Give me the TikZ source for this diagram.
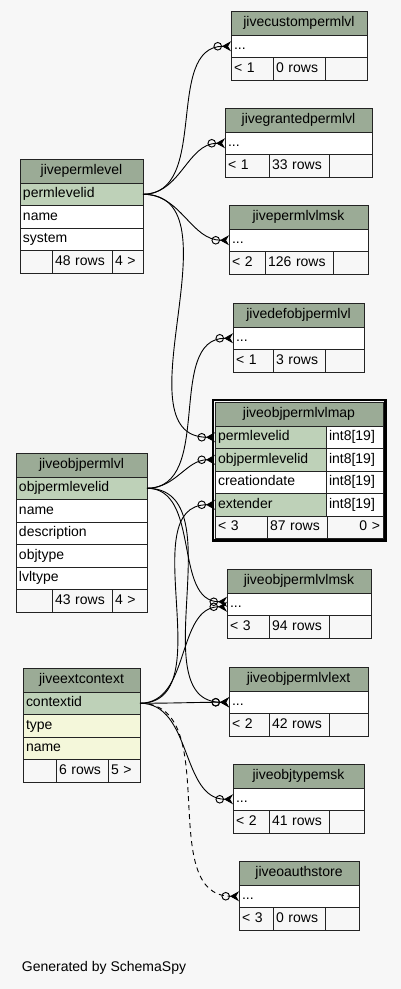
\documentclass[tikz,border=0pt]{standalone}
\usepackage{fontspec}
\setsansfont{Liberation Sans}
\RequirePackage{xcolor}
\definecolor{spybg}{RGB}{247,247,247}
\definecolor{spyhead}{RGB}{155,171,150}
\definecolor{spykey}{RGB}{190,209,184}
\definecolor{spyidx}{RGB}{244,247,218}
\definecolor{spyline}{RGB}{35,35,35}
\tikzset{every picture/.style={/utils/exec={\sffamily\fontsize{14}{16}\selectfont}}}
\usetikzlibrary{arrows.meta}
\usetikzlibrary{positioning}
\usetikzlibrary{fit}

\tikzset{
  cell/.style={draw=spyline, line width=1pt, anchor=north west, inner xsep=3pt, inner ysep=0pt, outer sep=0pt,
    minimum height=22.5pt, text height=10pt, text depth=3pt, align=left},
  wd/.style={text width=#1-6},
  head/.style={cell, fill=spyhead, minimum height=24pt, align=center},
  keycol/.style={cell, fill=spykey},
  txtcol/.style={cell, fill=white},
  idxcol/.style={cell, fill=spyidx},
  foot/.style={cell},
  fk/.style={line width=0.9pt, -{Circle[open, length=8.5pt, width=8.5pt, sep=0pt] Stealth[reversed, length=9pt, width=10pt]}}
}

\begin{document}
\begin{tikzpicture}[x=1pt, y=-1pt]

  \path [use as bounding box, fill=spybg] (0,0) rectangle (401,989);

  % jivecustompermlvl:
  \node [head, wd=136] (cust) at (231,11) {jivecustompermlvl};
  \node [txtcol, wd=136] (cust-dots) at (cust.south west) {...};
  \node [foot, wd=42] (cust-f1) at (cust-dots.south west) {< 1};
  \node [foot, wd=52] (cust-f2) at (cust-f1.north east) {0 rows};
  \node [foot, wd=42] (cust-f3) at (cust-f2.north east) {};

  % jivegrantedpermlvl:
  \node [head, wd=147] (grant) at (225,108) {jivegrantedpermlvl};
  \node [txtcol, wd=147] (grant-dots) at (grant.south west) {...};
  \node [foot, wd=44] (grant-f1) at (grant-dots.south west) {< 1};
  \node [foot, wd=60] (grant-f2) at (grant-f1.north east) {33 rows};
  \node [foot, wd=43] (grant-f3) at (grant-f2.north east) {};

  % jivepermlevel:
  \node [head, wd=123] (perm) at (20,159) {jivepermlevel};
  \node [keycol, wd=123] (perm-id) at (perm.south west) {permlevelid};
  \node [txtcol, wd=123] (perm-name) at (perm-id.south west) {name};
  \node [txtcol, wd=123] (perm-sys) at (perm-name.south west) {system};
  \node [foot, wd=32] (perm-f1) at (perm-sys.south west) {};
  \node [foot, wd=60] (perm-f2) at (perm-f1.north east) {48 rows};
  \node [foot, wd=31] (perm-f3) at (perm-f2.north east) {4 >};

  % jivepermlvlmsk:
  \node [head, wd=139] (pmsk) at (229,205) {jivepermlvlmsk};
  \node [txtcol, wd=139] (pmsk-dots) at (pmsk.south west) {...};
  \node [foot, wd=36] (pmsk-f1) at (pmsk-dots.south west) {< 2};
  \node [foot, wd=68] (pmsk-f2) at (pmsk-f1.north east) {126 rows};
  \node [foot, wd=35] (pmsk-f3) at (pmsk-f2.north east) {};

  % jivedefobjpermlvl:
  \node [head, wd=131] (defobj) at (233,303) {jivedefobjpermlvl};
  \node [txtcol, wd=131] (defobj-dots) at (defobj.south west) {...};
  \node [foot, wd=40] (defobj-f1) at (defobj-dots.south west) {< 1};
  \node [foot, wd=52] (defobj-f2) at (defobj-f1.north east) {3 rows};
  \node [foot, wd=39] (defobj-f3) at (defobj-f2.north east) {};

  % jiveobjpermlvlmap (the focused table):
  \node [head, wd=168] (map) at (215,402) {jiveobjpermlvlmap};
  \node [keycol, wd=111] (map-perm) at (map.south west) {permlevelid};
  \node [keycol, wd=111] (map-obj) at (map-perm.south west) {objpermlevelid};
  \node [txtcol, wd=111] (map-date) at (map-obj.south west) {creationdate};
  \node [keycol, wd=111] (map-ext) at (map-date.south west) {extender};
  \foreach \r in {perm, obj, date, ext}
    \node [txtcol, wd=57] (map-\r-type) at (map-\r.north east) {int8[19]};
  \node [foot, wd=52] (map-f1) at (map-ext.south west) {< 3};
  \node [foot, wd=60] (map-f2) at (map-f1.north east) {87 rows};
  \node [foot, wd=56, align=right] (map-f3) at (map-f2.north east) {0 >};
  \node [draw=black, line width=2.6pt, inner sep=2.2pt, fit=(map)(map-f3)] (map-frame) {};

  % jiveobjpermlvl:
  \node [head, wd=131] (objp) at (16,453) {jiveobjpermlvl};
  \node [keycol, wd=131] (objp-id) at (objp.south west) {objpermlevelid};
  \node [txtcol, wd=131] (objp-name) at (objp-id.south west) {name};
  \node [txtcol, wd=131] (objp-desc) at (objp-name.south west) {description};
  \node [txtcol, wd=131] (objp-type) at (objp-desc.south west) {objtype};
  \node [txtcol, wd=131] (objp-lvl) at (objp-type.south west) {lvltype};
  \node [foot, wd=36] (objp-f1) at (objp-lvl.south west) {};
  \node [foot, wd=60] (objp-f2) at (objp-f1.north east) {43 rows};
  \node [foot, wd=35] (objp-f3) at (objp-f2.north east) {4 >};

  % jiveobjpermlvlmsk:
  \node [head, wd=144] (omsk) at (227,569) {jiveobjpermlvlmsk};
  \node [txtcol, wd=144] (omsk-dots) at (omsk.south west) {...};
  \node [foot, wd=42] (omsk-f1) at (omsk-dots.south west) {< 3};
  \node [foot, wd=60] (omsk-f2) at (omsk-f1.north east) {94 rows};
  \node [foot, wd=42] (omsk-f3) at (omsk-f2.north east) {};

  % jiveextcontext:
  \node [head, wd=117] (ext) at (23,668) {jiveextcontext};
  \node [keycol, wd=117] (ext-id) at (ext.south west) {contextid};
  \node [idxcol, wd=117] (ext-type) at (ext-id.south west) {type};
  \node [idxcol, wd=117] (ext-name) at (ext-type.south west) {name};
  \node [foot, wd=33] (ext-f1) at (ext-name.south west) {};
  \node [foot, wd=52] (ext-f2) at (ext-f1.north east) {6 rows};
  \node [foot, wd=32] (ext-f3) at (ext-f2.north east) {5 >};

  % jiveobjpermlvlext:
  \node [head, wd=139] (oext) at (229,667) {jiveobjpermlvlext};
  \node [txtcol, wd=139] (oext-dots) at (oext.south west) {...};
  \node [foot, wd=40] (oext-f1) at (oext-dots.south west) {< 2};
  \node [foot, wd=60] (oext-f2) at (oext-f1.north east) {42 rows};
  \node [foot, wd=39] (oext-f3) at (oext-f2.north east) {};

  % jiveobjtypemsk:
  \node [head, wd=131] (otype) at (233,764) {jiveobjtypemsk};
  \node [txtcol, wd=131] (otype-dots) at (otype.south west) {...};
  \node [foot, wd=36] (otype-f1) at (otype-dots.south west) {< 2};
  \node [foot, wd=60] (otype-f2) at (otype-f1.north east) {41 rows};
  \node [foot, wd=35] (otype-f3) at (otype-f2.north east) {};

  % jiveoauthstore:
  \node [head, wd=120] (oauth) at (239,861) {jiveoauthstore};
  \node [txtcol, wd=120] (oauth-dots) at (oauth.south west) {...};
  \node [foot, wd=34] (oauth-f1) at (oauth-dots.south west) {< 3};
  \node [foot, wd=52] (oauth-f2) at (oauth-f1.north east) {0 rows};
  \node [foot, wd=34] (oauth-f3) at (oauth-f2.north east) {};

  % links from jivepermlevel:
  \foreach \n in {cust-dots, grant-dots, pmsk-dots, map-perm}
    \draw [fk] (perm-id.east) to [out=0, in=180] (\n.west);

  % links from jiveobjpermlvl:
  \foreach \n in {defobj-dots, map-obj, oext-dots}
    \draw [fk] (objp-id.east) to [out=0, in=180] (\n.west);
  \draw [fk] (objp-id.east) to [out=0, in=180] ([yshift=2.5pt]omsk-dots.west);

  % links from jiveextcontext:
  \foreach \n in {map-ext, oext-dots, otype-dots}
    \draw [fk] (ext-id.east) to [out=0, in=180] (\n.west);
  \draw [fk] (ext-id.east) to [out=0, in=180] ([yshift=-2.5pt]omsk-dots.west);
  \draw [fk, dash pattern=on 5pt off 4pt] (ext-id.east) to [out=0, in=180] (oauth-dots.west);

  \node [anchor=base west] (credit) at (17,971) {Generated by SchemaSpy};

\end{tikzpicture}
\end{document}
